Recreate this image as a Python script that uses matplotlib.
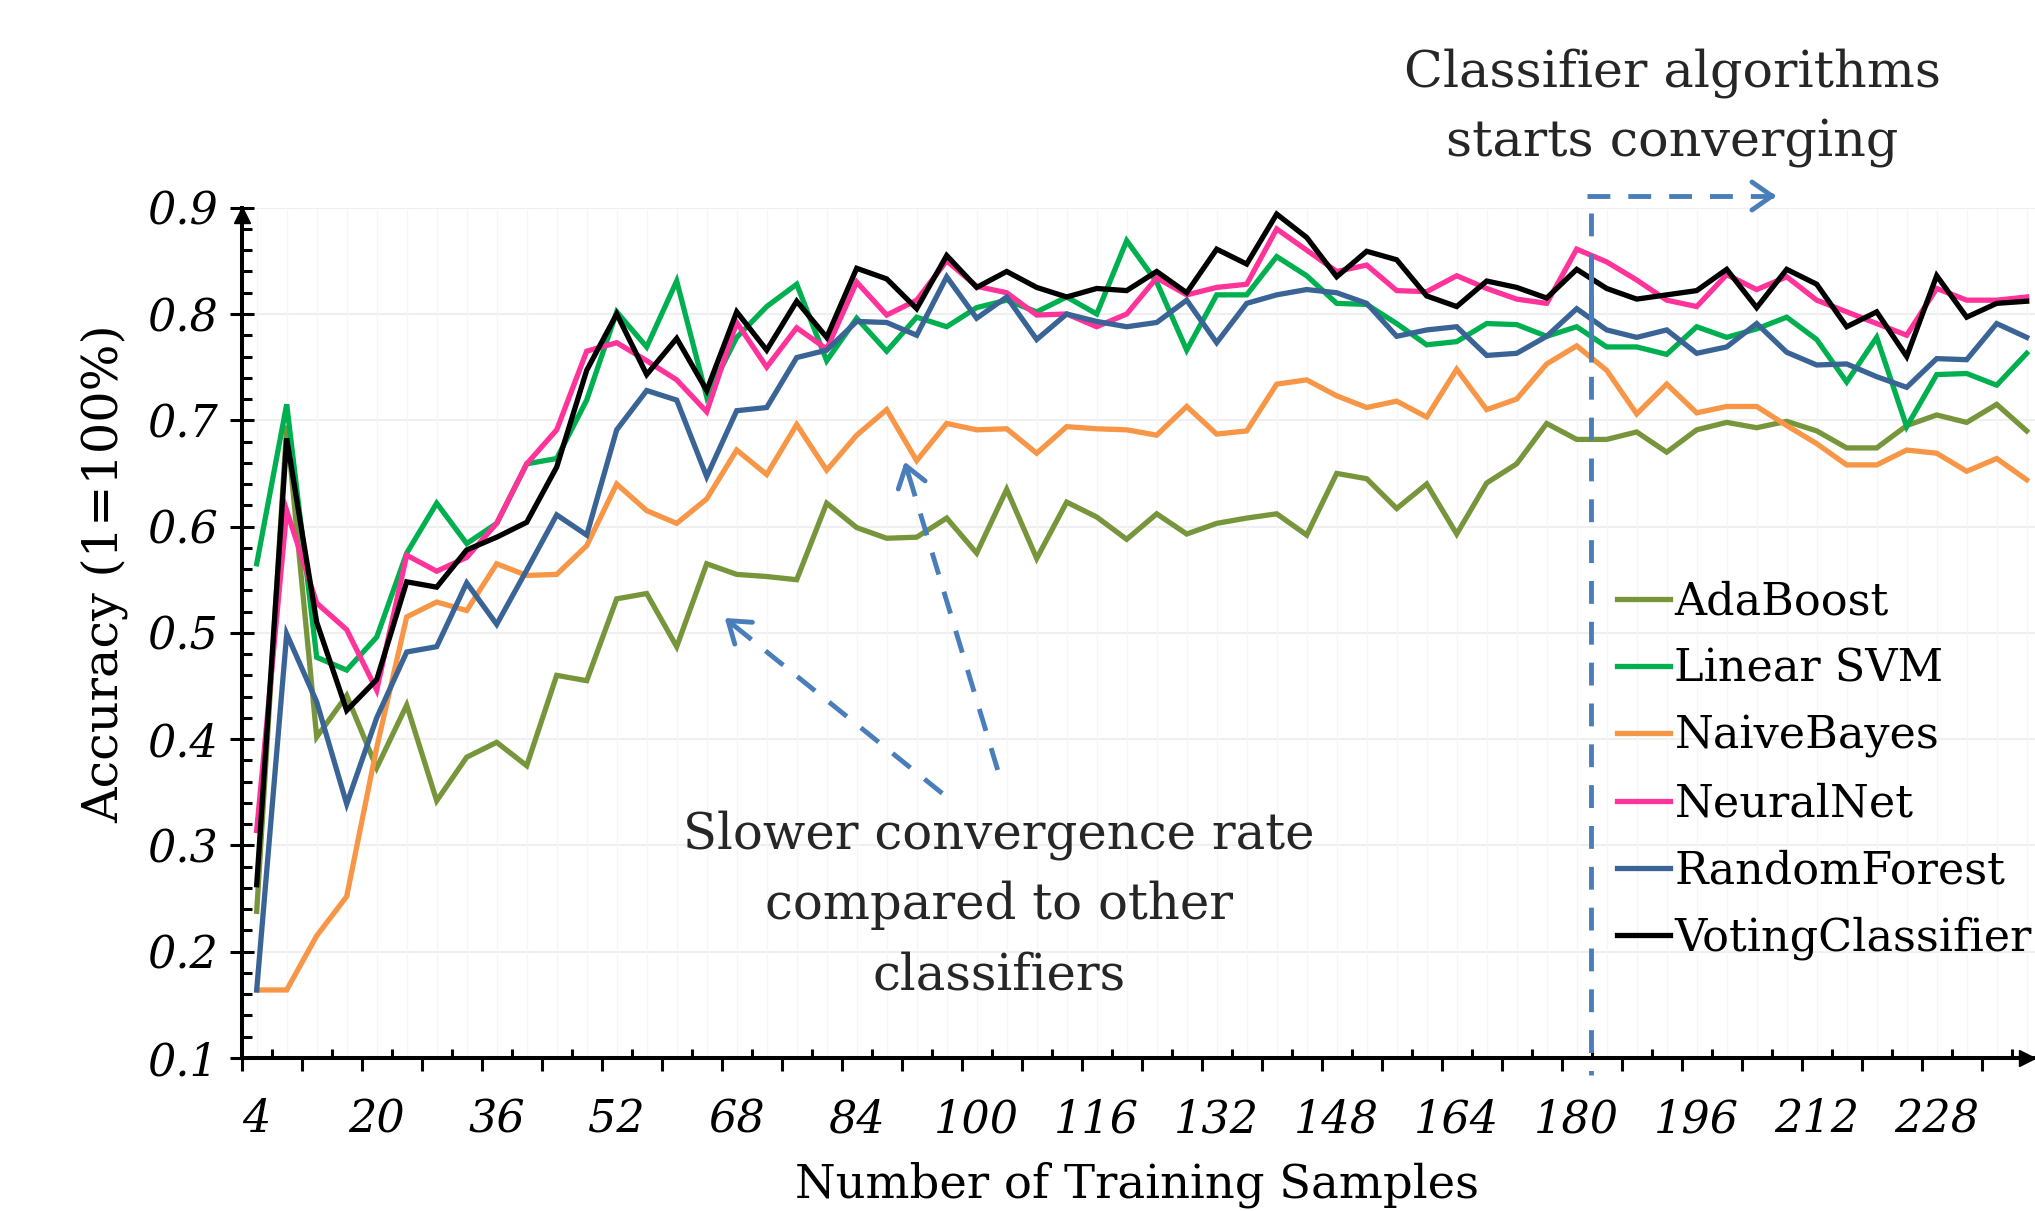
import matplotlib
matplotlib.use("Agg")
import matplotlib.pyplot as plt
from matplotlib.ticker import MultipleLocator, NullLocator

plt.rcParams["font.family"] = ["DejaVu Serif"]

# training sample counts (category axis)
samples = list(range(4, 241, 4))

ada = [0.238, 0.695, 0.402, 0.441, 0.373, 0.432, 0.342, 0.383, 0.397, 0.375,
       0.460, 0.455, 0.532, 0.537, 0.487, 0.565, 0.555, 0.553, 0.550, 0.622,
       0.599, 0.589, 0.590, 0.608, 0.575, 0.635, 0.570, 0.623, 0.609, 0.588,
       0.612, 0.593, 0.603, 0.608, 0.612, 0.592, 0.650, 0.645, 0.617, 0.640,
       0.593, 0.641, 0.659, 0.697, 0.682, 0.682, 0.689, 0.670, 0.691, 0.698,
       0.693, 0.699, 0.690, 0.674, 0.674, 0.695, 0.705, 0.698, 0.715, 0.690]
svm = [0.565, 0.715, 0.477, 0.465, 0.496, 0.575, 0.622, 0.584, 0.603, 0.659,
       0.664, 0.719, 0.802, 0.769, 0.831, 0.722, 0.778, 0.807, 0.828, 0.756,
       0.796, 0.765, 0.797, 0.788, 0.806, 0.813, 0.802, 0.816, 0.800, 0.869,
       0.830, 0.766, 0.818, 0.818, 0.854, 0.836, 0.810, 0.809, 0.791, 0.771,
       0.774, 0.791, 0.790, 0.779, 0.788, 0.769, 0.769, 0.762, 0.788, 0.778,
       0.786, 0.797, 0.776, 0.736, 0.778, 0.694, 0.743, 0.744, 0.733, 0.763]
nb = [0.164, 0.164, 0.215, 0.252, 0.392, 0.515, 0.529, 0.521, 0.565, 0.554,
      0.555, 0.582, 0.640, 0.615, 0.603, 0.626, 0.672, 0.649, 0.696, 0.653,
      0.686, 0.710, 0.662, 0.697, 0.691, 0.692, 0.669, 0.694, 0.692, 0.691,
      0.686, 0.713, 0.687, 0.690, 0.734, 0.738, 0.723, 0.712, 0.718, 0.703,
      0.748, 0.710, 0.720, 0.753, 0.770, 0.747, 0.706, 0.734, 0.707, 0.713,
      0.713, 0.695, 0.678, 0.658, 0.658, 0.672, 0.669, 0.652, 0.664, 0.644]
nn = [0.314, 0.615, 0.528, 0.503, 0.446, 0.573, 0.558, 0.571, 0.603, 0.659,
      0.691, 0.765, 0.773, 0.756, 0.738, 0.708, 0.792, 0.750, 0.787, 0.767,
      0.830, 0.799, 0.813, 0.850, 0.826, 0.820, 0.799, 0.800, 0.788, 0.800,
      0.834, 0.818, 0.825, 0.828, 0.880, 0.860, 0.840, 0.846, 0.822, 0.821,
      0.836, 0.824, 0.814, 0.810, 0.861, 0.849, 0.832, 0.813, 0.807, 0.837,
      0.823, 0.835, 0.813, 0.802, 0.791, 0.780, 0.824, 0.813, 0.813, 0.816]
rf = [0.164, 0.499, 0.435, 0.339, 0.420, 0.482, 0.487, 0.547, 0.508, 0.559,
      0.611, 0.592, 0.691, 0.728, 0.719, 0.647, 0.709, 0.712, 0.759, 0.766,
      0.793, 0.792, 0.780, 0.835, 0.796, 0.816, 0.776, 0.800, 0.793, 0.788,
      0.792, 0.813, 0.773, 0.810, 0.818, 0.823, 0.820, 0.810, 0.779, 0.785,
      0.788, 0.761, 0.763, 0.779, 0.805, 0.785, 0.778, 0.785, 0.763, 0.769,
      0.791, 0.764, 0.752, 0.753, 0.741, 0.731, 0.758, 0.757, 0.791, 0.778]
vote = [0.263, 0.683, 0.510, 0.427, 0.456, 0.548, 0.543, 0.578, 0.590, 0.604,
        0.656, 0.747, 0.800, 0.743, 0.777, 0.728, 0.802, 0.766, 0.812, 0.778,
        0.843, 0.833, 0.805, 0.855, 0.825, 0.840, 0.825, 0.816, 0.824, 0.822,
        0.840, 0.820, 0.861, 0.847, 0.894, 0.872, 0.835, 0.859, 0.851, 0.817,
        0.807, 0.831, 0.825, 0.815, 0.842, 0.824, 0.814, 0.818, 0.822, 0.842,
        0.806, 0.842, 0.828, 0.788, 0.802, 0.760, 0.836, 0.797, 0.810, 0.812]

names = ["AdaBoost", "Linear SVM", "NaiveBayes", "NeuralNet", "RandomForest", "VotingClassifier"]
colors = ["#77963C", "#00B050", "#F79646", "#FF3399", "#3A6496", "#000000"]
series = [ada, svm, nb, nn, rf, vote]

x_labels = list(range(4, 229, 16))
y_labels = [0.1, 0.2, 0.3, 0.4, 0.5, 0.6, 0.7, 0.8, 0.9]

W, H = 2035, 1211
blue = "#4A7EBB"
txt = "#262626"

fig = plt.figure(figsize=(W / 100, H / 100), dpi=100)
ax = fig.add_axes([241.7 / W, 1 - 1058 / H, (W - 241.7) / W, 850.3 / H])
ax.set_xlim(2, 2 + (W - 241.7) / 7.5)
ax.set_ylim(0.1, 0.9)

# faint grid
for yv in y_labels[1:]:
    ax.axhline(yv, color="#efefef", lw=1.5, zorder=0)
ax.vlines(samples, 0.1, 0.9, color="#f6f6f6", lw=1, zorder=0)

for name, col, vals in zip(names, colors, series):
    ax.plot(samples, vals, color=col, lw=3.8, label=name, zorder=2, solid_joinstyle="miter")

# spines / axes
for s in ["top", "right"]:
    ax.spines[s].set_visible(False)
for s in ["left", "bottom"]:
    ax.spines[s].set_linewidth(2.9)
    ax.spines[s].set_color("black")
    ax.spines[s].set_zorder(5)

ax.set_xticks(x_labels)
ax.set_xticklabels([str(v) for v in x_labels])
ax.set_xticks(list(range(2, 242, 8)), minor=True)
ax.tick_params(axis="x", which="major", length=0, pad=29, labelsize=32)
ax.tick_params(axis="x", which="minor", direction="out", length=9.5, width=2.2)

sec = ax.secondary_xaxis("bottom")
sec.set_xticks(list(range(6, 242, 8)))
sec.set_xticklabels([])
sec.xaxis.set_minor_locator(NullLocator())
sec.tick_params(axis="x", direction="in", length=6.5, width=2.2)
sec.spines["bottom"].set_visible(False)

ax.set_yticks(y_labels)
ax.set_yticklabels([f"{v:.1f}" for v in y_labels])
ax.yaxis.set_minor_locator(MultipleLocator(0.02))
ax.tick_params(axis="y", which="major", direction="inout", length=17.5, width=2.2, pad=8, labelsize=32)
ax.tick_params(axis="y", which="minor", direction="in", length=7.2, width=2.2)
for lab in ax.get_xticklabels() + ax.get_yticklabels():
    lab.set_fontstyle("italic")

# axis arrows
ax.plot(0, 1 - 7.5 / 850.3, marker="^", ms=11, color="black", transform=ax.transAxes, clip_on=False, zorder=6)
ax.plot((W - 8 - 241.7) / (W - 241.7), 0, marker=">", ms=11, color="black", transform=ax.transAxes, clip_on=False, zorder=6)

fig.text(104 / W, 1 - 574 / H, "Accuracy (1=100%)", rotation=90, ha="center", va="center", fontsize=35.5)
fig.text(1137 / W, 1 - 1197 / H, "Number of Training Samples", ha="center", va="baseline", fontsize=33.5)

leg = ax.legend(loc="upper left", bbox_to_anchor=(1616.7 / W, 1 - 580 / H), bbox_transform=fig.transFigure,
                frameon=False, fontsize=32, handlelength=1.2, handletextpad=0.1, labelspacing=0.54,
                borderpad=0, borderaxespad=0)

# annotations
dash = (0, (4.7, 3.7))


def dashed_arrow(tail, tip):
    ax.plot([tail[0], tip[0]], [tail[1], tip[1]], color=blue, lw=3.5, ls=dash, clip_on=False, zorder=4,
            dash_capstyle="butt")
    back = (tip[0] + (tail[0] - tip[0]) * 0.04, tip[1] + (tail[1] - tip[1]) * 0.04)
    ax.annotate("", xy=tip, xytext=back,
                arrowprops=dict(arrowstyle="->,head_length=0.4,head_width=0.28", lw=3.5, color=blue,
                                mutation_scale=36, shrinkA=0, shrinkB=0), zorder=4, annotation_clip=False)


dashed_arrow((95.4, 0.349), (66.4, 0.514))
dashed_arrow((102.8, 0.371), (90.4, 0.661))
ax.plot([181.9, 181.9], [0.895, 0.084], color=blue, lw=3.5, ls=dash, clip_on=False, zorder=4, dash_capstyle="butt")
ax.plot([181.9, 181.9], [0.855, 0.755], color=blue, lw=3.5, clip_on=False, zorder=4, solid_capstyle="butt")
dashed_arrow((181.4, 0.911), (206.6, 0.911))

slow_lines = ["Slower convergence rate", "compared to other", "classifiers"]
for line, yb in zip(slow_lines, [848, 918.5, 989]):
    fig.text(999 / W, 1 - yb / H, line, ha="center", va="baseline", fontsize=35.8, color=txt)
conv_lines = ["Classifier algorithms", "starts converging"]
for line, yb in zip(conv_lines, [87, 156]):
    fig.text(1672 / W, 1 - yb / H, line, ha="center", va="baseline", fontsize=36.5, color=txt)

fig.savefig("out.png", dpi=100)
